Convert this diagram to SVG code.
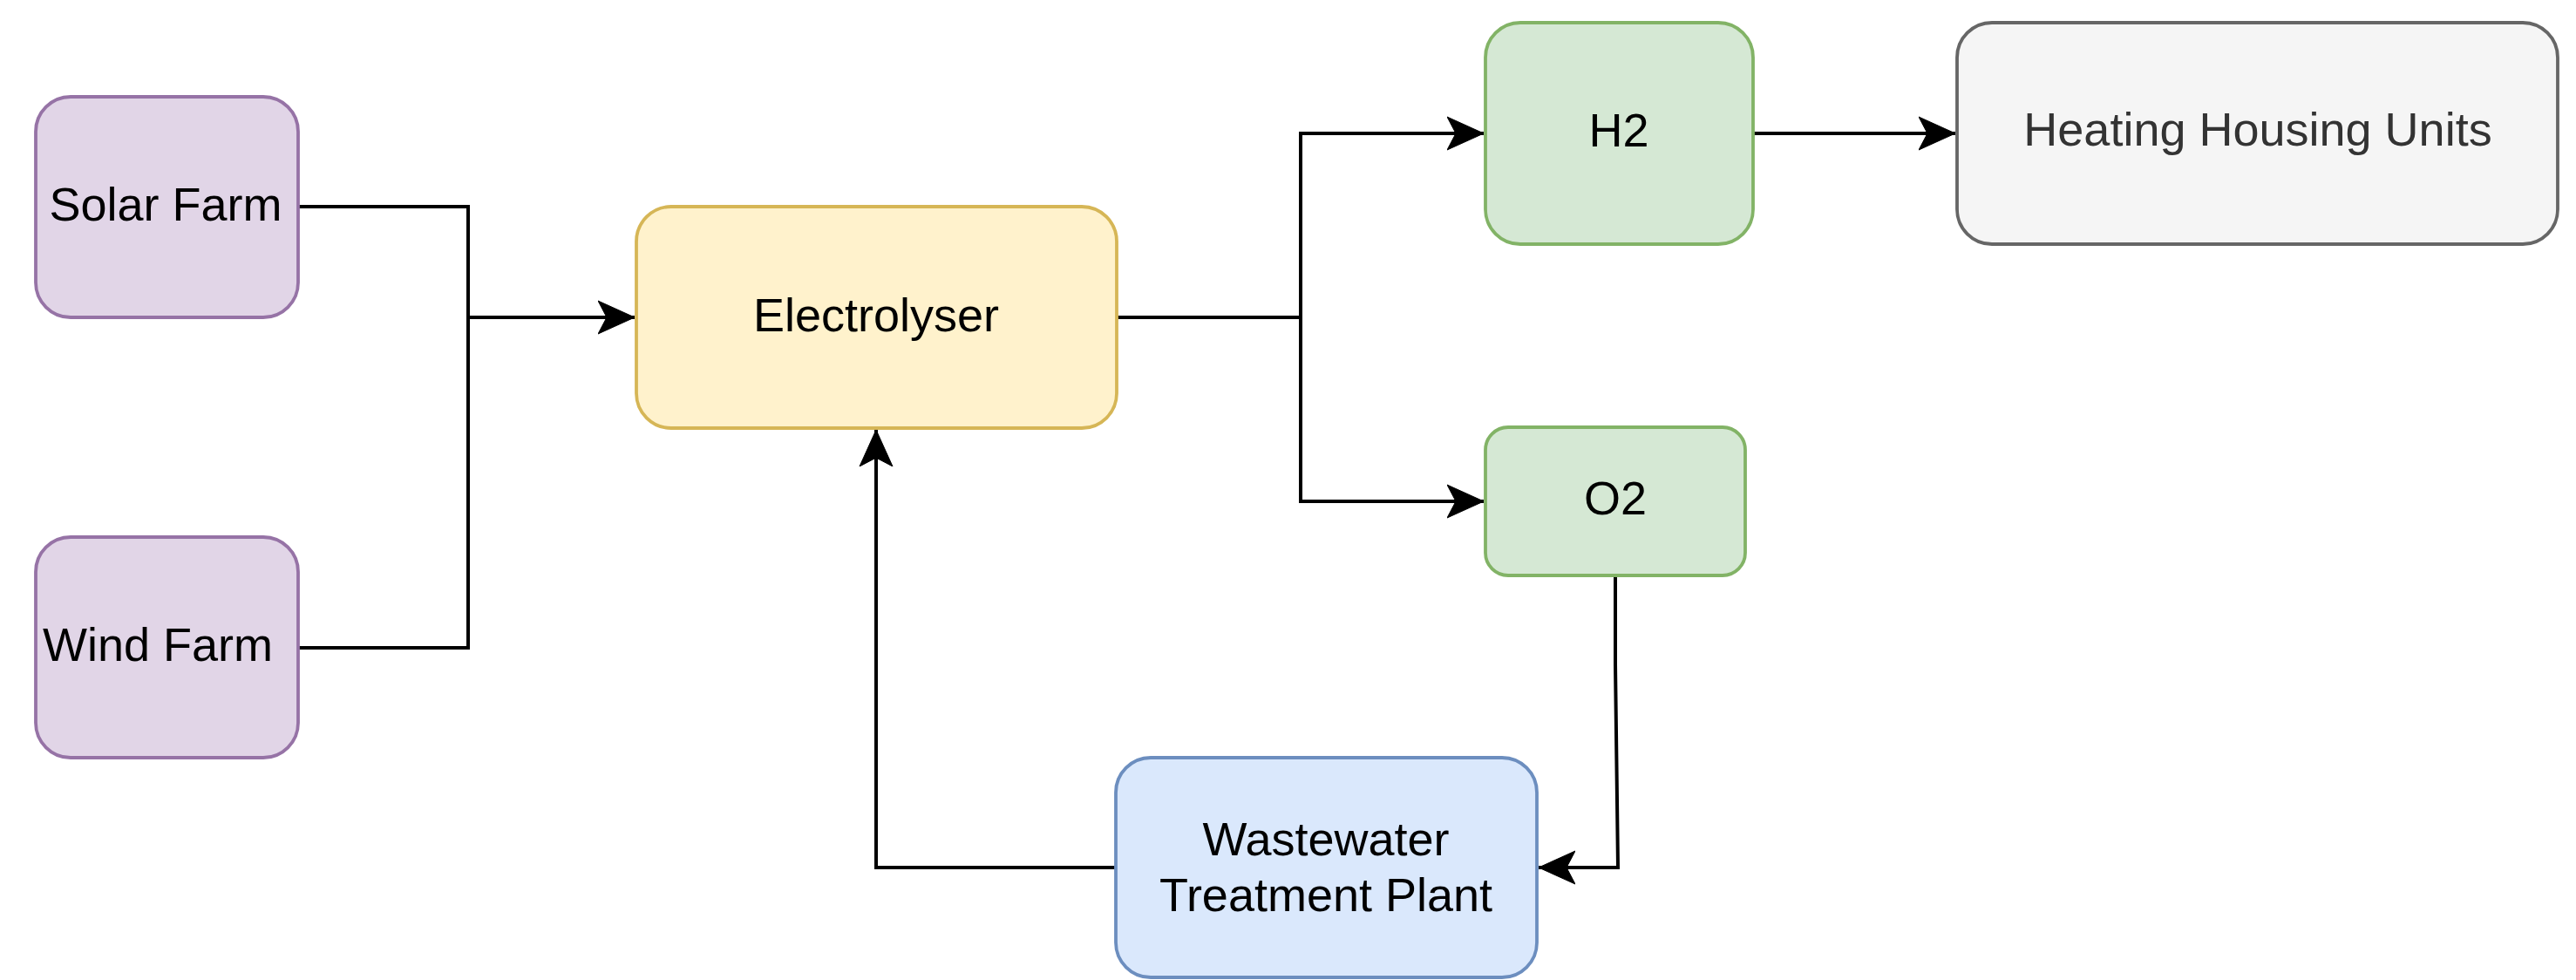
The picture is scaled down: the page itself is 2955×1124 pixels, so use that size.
<svg xmlns="http://www.w3.org/2000/svg" width="2955" height="1124" viewBox="0 0 2955 1124">
<defs>
<style>
.node rect{stroke-width:3.8}
.purple rect{fill:#e1d5e7;stroke:#9673a6}
.yellow rect{fill:#fff2cc;stroke:#d6b656}
.green rect{fill:#d5e8d4;stroke:#82b366}
.blue rect{fill:#dae8fc;stroke:#6c8ebf}
.gray rect{fill:#f5f5f5;stroke:#666666}
.node text{font-family:"Liberation Sans",Arial,sans-serif;font-size:54px;fill:#000;text-anchor:middle}
.gray text{fill:#333333}
.edges path{fill:none;stroke:#000;stroke-width:4;stroke-linejoin:miter}
</style>
<marker id="arr" markerUnits="userSpaceOnUse" markerWidth="50" markerHeight="44" refX="42" refY="20" orient="auto" viewBox="0 0 50 44">
<path d="M42,20 L0,1 L10,20 L0,39 Z" fill="#000" stroke="#000" stroke-width="1"/>
</marker>
</defs>
<rect width="2955" height="1124" fill="#ffffff"/>
<g class="edges" id="connectors">
<path d="M342,237 H537 V364 H728" marker-end="url(#arr)"/>
<path d="M342,743 H537 V364"/>
<path d="M1281,364 H1492 V153 H1702" marker-end="url(#arr)"/>
<path d="M1492,364 V575 H1702" marker-end="url(#arr)"/>
<path d="M2011,153 H2243" marker-end="url(#arr)"/>
<path d="M1853,660 V762 L1856,995 H1765" marker-end="url(#arr)"/>
<path d="M1280,995 H1005 V493" marker-end="url(#arr)"/>
</g>
<g id="solar" class="node purple">
<rect x="41" y="111" width="301" height="253" rx="40"/>
<text x="190" y="253">Solar Farm</text>
</g>
<g id="wind" class="node purple">
<rect x="41" y="616" width="301" height="253" rx="40"/>
<text x="181" y="758">Wind Farm</text>
</g>
<g id="electrolyser" class="node yellow">
<rect x="730" y="237" width="551" height="254" rx="40"/>
<text x="1005" y="380">Electrolyser</text>
</g>
<g id="h2" class="node green">
<rect x="1704" y="26" width="307" height="254" rx="40"/>
<text x="1857" y="168">H2</text>
</g>
<g id="o2" class="node green">
<rect x="1704" y="490" width="298" height="170" rx="26"/>
<text x="1853" y="590">O2</text>
</g>
<g id="wastewater" class="node blue">
<rect x="1280" y="869" width="483" height="252" rx="40"/>
<text x="1521" y="981">Wastewater</text>
<text x="1521" y="1045">Treatment Plant</text>
</g>
<g id="heating" class="node gray">
<rect x="2245" y="26" width="689" height="254" rx="40"/>
<text x="2590" y="167">Heating Housing Units</text>
</g>
</svg>
